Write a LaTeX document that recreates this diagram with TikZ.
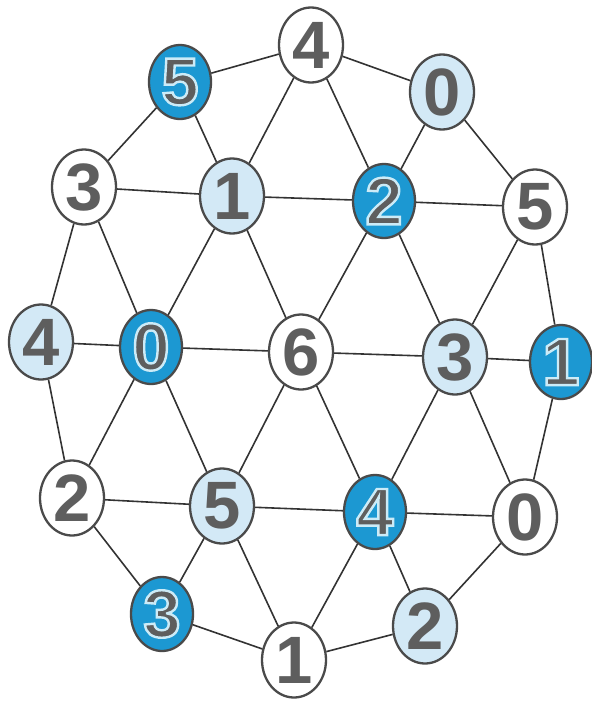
\documentclass[tikz,border=0pt]{standalone}
\usepackage{fontspec}
\setmainfont{Liberation Sans}
\usetikzlibrary{shapes.geometric}
\definecolor{dkblue}{HTML}{1C98D2}
\definecolor{ltblue}{HTML}{D3E9F6}
\definecolor{digit}{HTML}{5E5E5E}
\definecolor{edge}{HTML}{333333}
\definecolor{rim}{HTML}{4A4A4A}
\newcommand\odig[1]{{\special{pdf:literal q 2 Tr 2.4 w 0.80 0.92 0.97 RG}#1\special{pdf:literal 0 Tr Q}}}
\begin{document}
\begin{tikzpicture}[x=1pt,y=-1pt,
  nd/.style={ellipse,draw=rim,line width=2.3pt,minimum width=64pt,minimum height=75pt,inner sep=0pt,
    font=\fontsize{67}{67}\selectfont\bfseries,text=digit},
  wn/.style={nd,fill=white},
  ln/.style={nd,fill=ltblue},
  dn/.style={nd,fill=dkblue,minimum width=62pt,minimum height=74pt},
  ed/.style={draw=edge,line width=1.6pt}]
\useasboundingbox (0,0) rectangle (592,702);
% row 0
\node[dn] (t5) at (180,82) {\odig{5}};
\node[wn] (t4) at (311,45) {4};
\node[ln] (t0) at (442,92) {0};
% row 1
\node[wn] (l3) at (84,187) {3};
\node[ln] (m1) at (232,196) {1};
\node[dn] (m2) at (384,201) {\odig{2}};
\node[wn] (r5) at (535,207) {5};
% row 2
\node[ln] (l4) at (41,342) {4};
\node[dn] (m0) at (151,347) {\odig{0}};
\node[wn] (c6) at (301,352) {6};
\node[ln] (m3) at (455,357) {3};
\node[dn] (r1) at (561,362) {\odig{1}};
% row 3
\node[wn] (l2) at (72,498) {2};
\node[ln] (b5) at (222,506) {5};
\node[dn] (b4) at (375,512) {\odig{4}};
\node[wn] (r0) at (525,517) {0};
% row 4
\node[dn] (b3) at (162,614) {\odig{3}};
\node[wn] (b1) at (294,660) {1};
\node[ln] (b2) at (425,626) {2};
% outer ring
\draw[ed] (t5)--(t4) (t4)--(t0) (t0)--(r5) (r5)--(r1) (r1)--(r0) (r0)--(b2)
  (b2)--(b1) (b1)--(b3) (b3)--(l2) (l2)--(l4) (l4)--(l3) (l3)--(t5);
% rows
\draw[ed] (l3)--(m1) (m1)--(m2) (m2)--(r5);
\draw[ed] (l4)--(m0) (m0)--(c6) (c6)--(m3) (m3)--(r1);
\draw[ed] (l2)--(b5) (b5)--(b4) (b4)--(r0);
% diagonals
\draw[ed] (t5)--(m1) (t4)--(m1) (t4)--(m2) (t0)--(m2)
  (l3)--(m0) (m1)--(m0) (m1)--(c6) (m2)--(c6) (m2)--(m3) (r5)--(m3)
  (m0)--(l2) (m0)--(b5) (c6)--(b5) (c6)--(b4) (m3)--(b4) (m3)--(r0)
  (b5)--(b3) (b5)--(b1) (b4)--(b1) (b4)--(b2);
\end{tikzpicture}
\end{document}
